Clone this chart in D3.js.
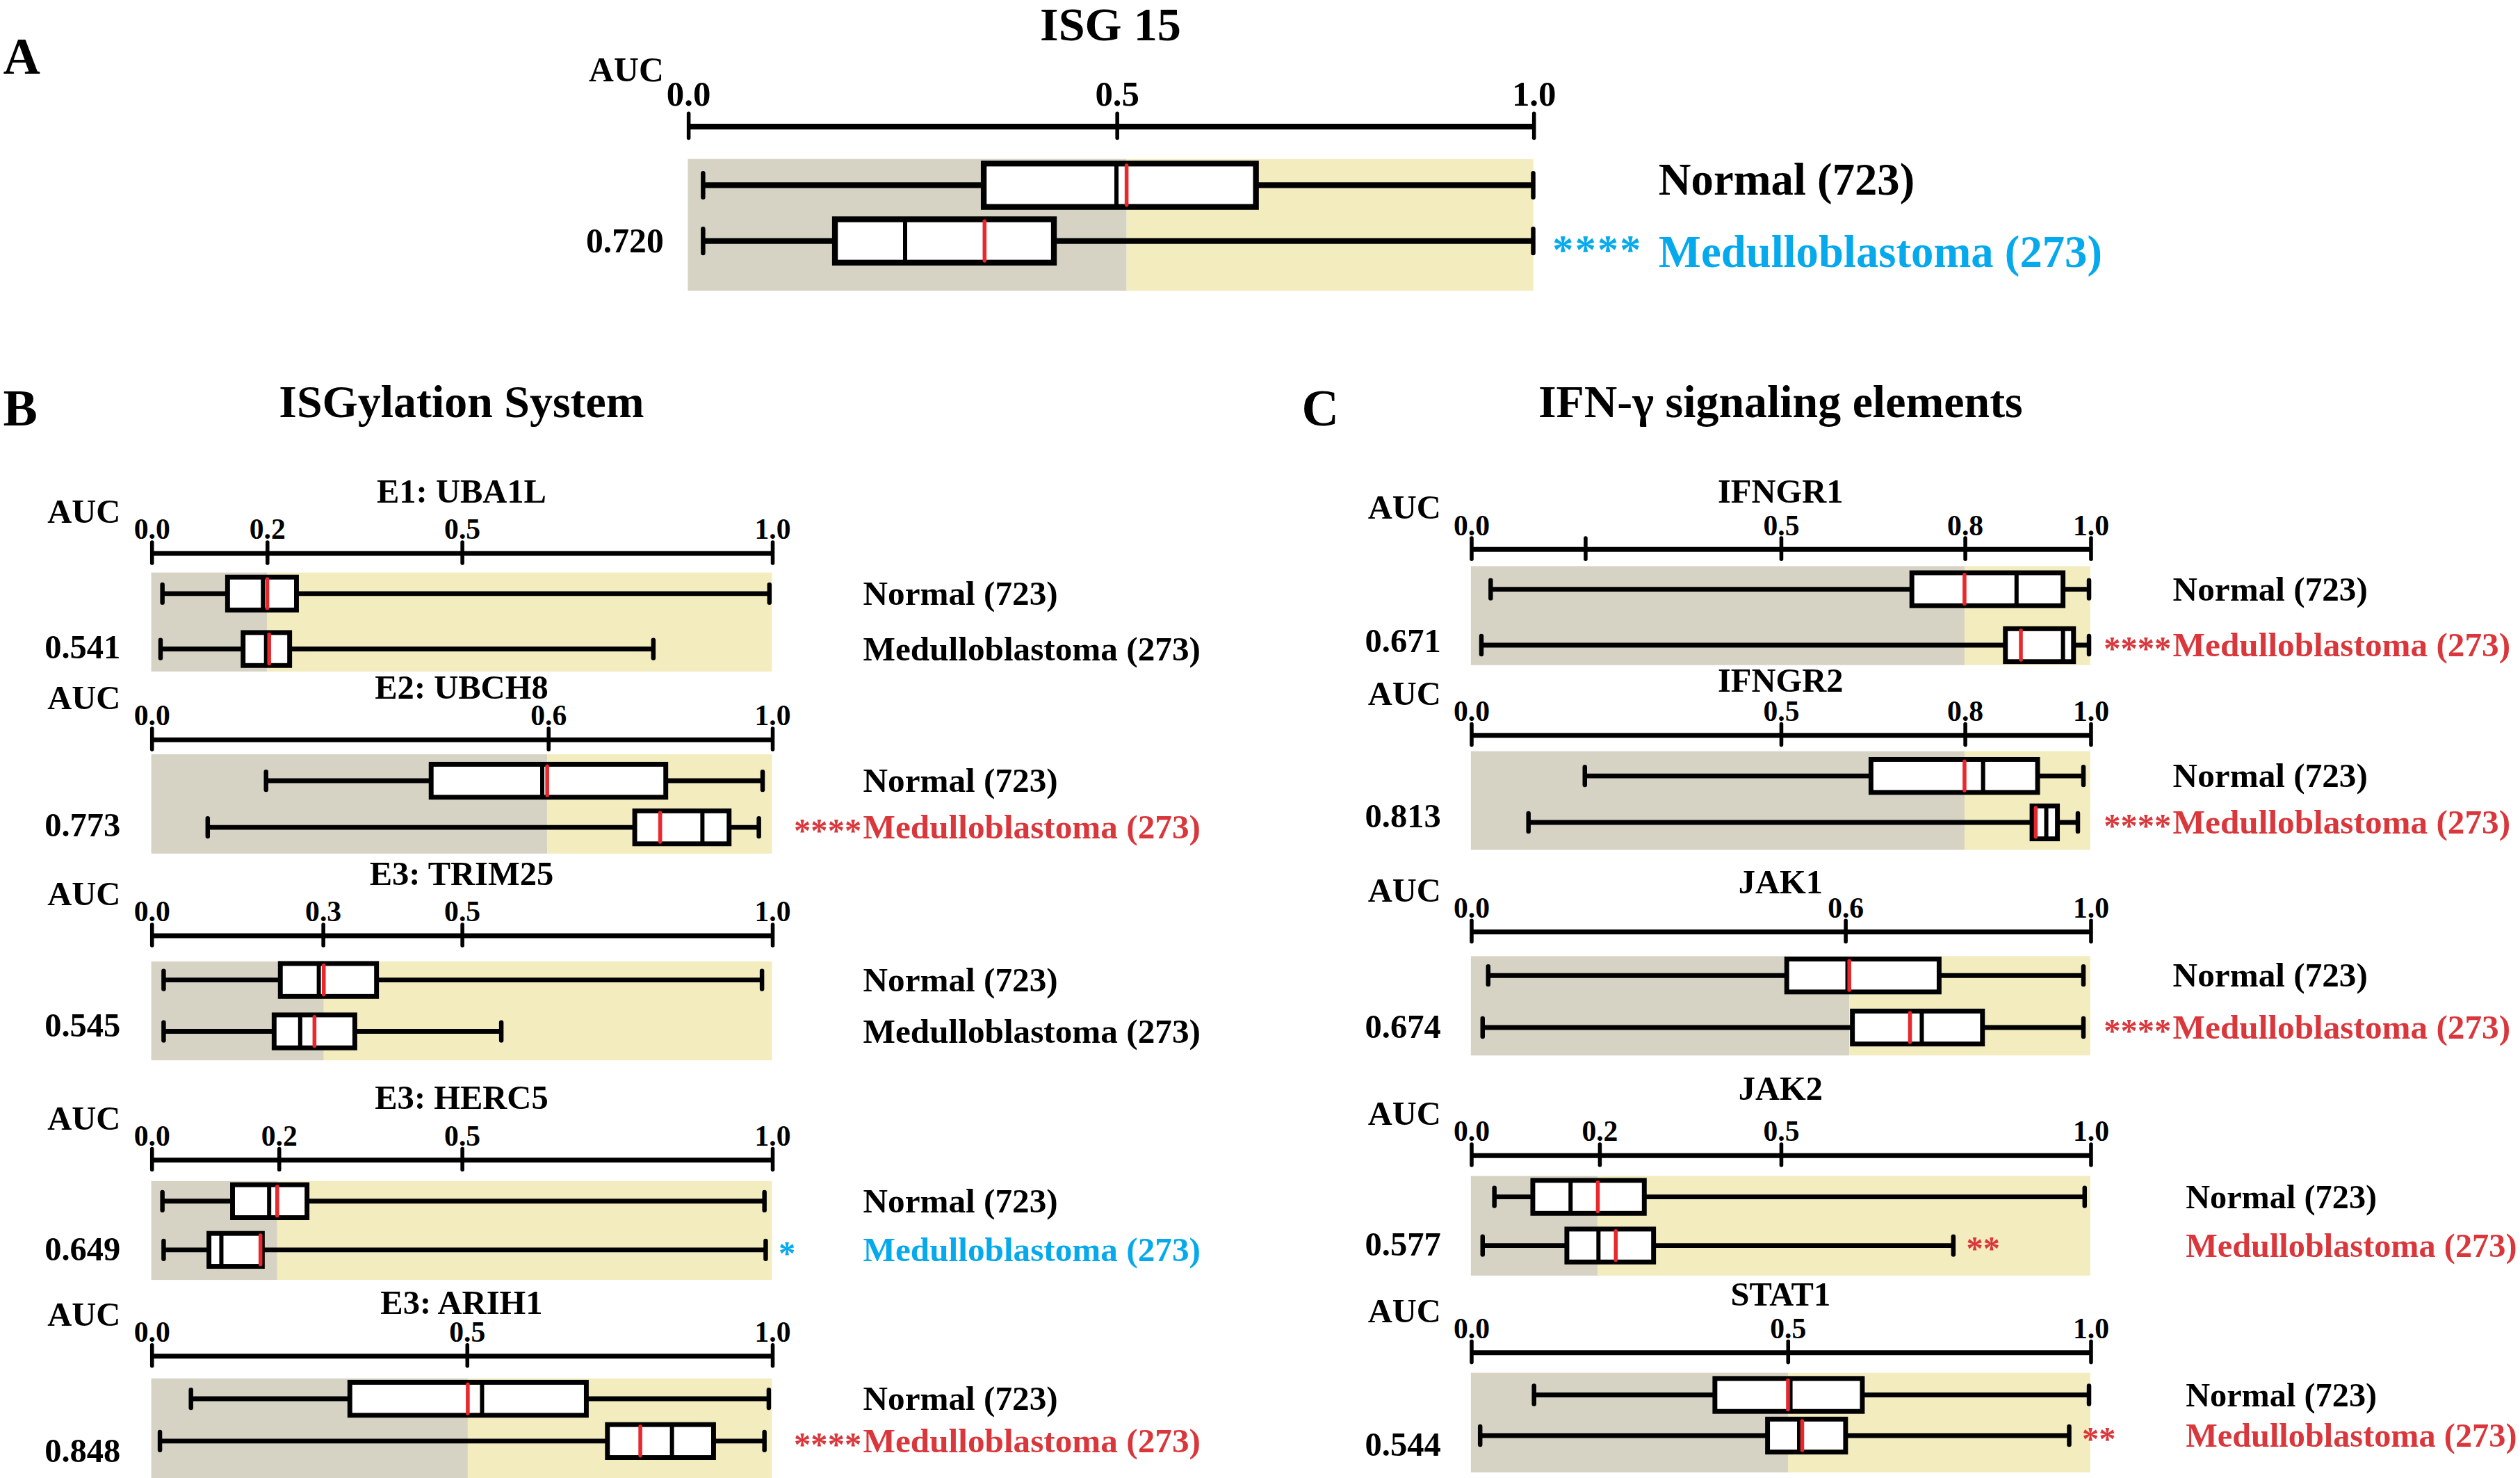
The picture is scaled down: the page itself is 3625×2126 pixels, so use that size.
<!DOCTYPE html>
<html>
  <head>
    <meta charset="utf-8">
    <style>
      body { margin: 0; background: #fff; }
      #chart text { font-family: "Liberation Serif", "Times New Roman", serif; font-weight: bold; }
    </style>
  </head>
  <body>
    <svg id="chart"></svg>

    <script src="https://cdn.jsdelivr.net/npm/d3@7/dist/d3.min.js"></script>
    <script type="text/javascript">
      // ---- data ----
      const panelNames = ["ISG 15", "E1: UBA1L", "E2: UBCH8", "E3: TRIM25", "E3: HERC5", "E3: ARIH1",
                          "IFNGR1", "IFNGR2", "JAK1", "JAK2", "STAT1"];
      const aucValues = ["0.720", "0.541", "0.773", "0.545", "0.649", "0.848",
                         "0.671", "0.813", "0.674", "0.577", "0.544"];
      const groupLabels = ["Normal (723)", "Medulloblastoma (273)"];

      // [min, q1, median, q3, max]
      const normalBoxes = [
        [0.018, 0.350, 0.507, 0.672, 1.000],
        [0.018, 0.123, 0.180, 0.234, 0.996],
        [0.185, 0.451, 0.630, 0.829, 0.985],
        [0.020, 0.208, 0.270, 0.363, 0.984],
        [0.018, 0.131, 0.190, 0.251, 0.988],
        [0.064, 0.320, 0.533, 0.701, 0.995],
        [0.032, 0.712, 0.881, 0.956, 0.998],
        [0.184, 0.646, 0.827, 0.915, 0.989],
        [0.028, 0.510, 0.608, 0.756, 0.989],
        [0.038, 0.100, 0.161, 0.280, 0.991],
        [0.102, 0.394, 0.516, 0.632, 0.998]
      ];
      const normalMeans = [0.519, 0.187, 0.638, 0.278, 0.203, 0.510, 0.797, 0.797, 0.611, 0.205, 0.512];

      const meduBoxes = [
        [0.018, 0.174, 0.257, 0.433, 1.000],
        [0.015, 0.148, 0.185, 0.223, 0.809],
        [0.091, 0.779, 0.888, 0.931, 0.979],
        [0.020, 0.198, 0.240, 0.328, 0.564],
        [0.020, 0.093, 0.113, 0.179, 0.990],
        [0.014, 0.735, 0.839, 0.906, 0.988],
        [0.017, 0.863, 0.956, 0.973, 0.998],
        [0.093, 0.906, 0.929, 0.947, 0.980],
        [0.019, 0.616, 0.728, 0.826, 0.989],
        [0.019, 0.155, 0.206, 0.295, 0.779],
        [0.015, 0.479, 0.530, 0.605, 0.966]
      ];
      const meduMeans = [0.351, 0.190, 0.820, 0.263, 0.176, 0.788, 0.888, 0.912, 0.709, 0.234, 0.535];

      const tickValues = [
        [0, 0.507, 1], [0, 0.186, 0.5, 1], [0, 0.639, 1], [0, 0.276, 0.5, 1], [0, 0.205, 0.5, 1],
        [0, 0.508, 1], [0, 0.184, 0.5, 0.797, 1], [0, 0.5, 0.797, 1], [0, 0.604, 1],
        [0, 0.207, 0.5, 1], [0, 0.511, 1]
      ];
      const tickLabels = [
        ["0.0", "0.5", "1.0"], ["0.0", "0.2", "0.5", "1.0"], ["0.0", "0.6", "1.0"], ["0.0", "0.3", "0.5", "1.0"],
        ["0.0", "0.2", "0.5", "1.0"], ["0.0", "0.5", "1.0"], ["0.0", "", "0.5", "0.8", "1.0"],
        ["0.0", "0.5", "0.8", "1.0"], ["0.0", "0.6", "1.0"], ["0.0", "0.2", "0.5", "1.0"], ["0.0", "0.5", "1.0"]
      ];
      const sigStars = ["****", "", "****", "", "*", "****", "****", "****", "****", "**", "**"];
      const sigDirection = ["down", "ns", "up", "ns", "down", "up", "up", "up", "up", "up", "up"];

      const sectionLetters = ["A", "B", "C"];
      const sectionTitles = ["", "ISGylation System", "IFN-\u03b3 signaling elements"];

      // ---- layout (in 1568 x 920 units, scaled to the window) ----
      const W = 1568, H = 920;
      const colors = { gray: "#d6d3c4", yellow: "#f2ecbf", red: "#d9373b", blue: "#05a9ec", mean: "#e8282c" };
      const bx = { x0: 94.1, x1: 480.3, aucX: 75, labelX: 537 };
      const cx = { x0: 915.2, x1: 1300.6, aucX: 896.6, labelX: 1352 };
      const layout = [
        { x0: 428, x1: 954, aucX: 413, labelX: 1032, axisY: 78.3, titleY: 25, aucLabelY: 50.5, shade: [99, 181], rows: [115.3, 150], aucY: 157, star: "name", big: true, labelDY: [6, 16] },
        Object.assign({ axisY: 344, titleY: 312.8, shade: [356.4, 418], rows: [369.5, 404], aucY: 409.6, star: "name" }, bx),
        Object.assign({ axisY: 460, titleY: 435, shade: [469.5, 531.3], rows: [486, 515], aucY: 520.7, star: "name" }, bx),
        Object.assign({ axisY: 582, titleY: 551, shade: [598.5, 660], rows: [610, 642], aucY: 645.4, star: "name" }, bx),
        Object.assign({ axisY: 721.6, titleY: 690.2, shade: [735.2, 796.7], rows: [747.7, 778], aucY: 784.7, star: "whisker" }, bx),
        Object.assign({ axisY: 843.7, titleY: 817.8, shade: [858, 925], rows: [870.7, 897], aucY: 910, star: "name" }, bx),
        Object.assign({ axisY: 341.5, titleY: 312.8, shade: [352.4, 414], rows: [366.8, 401.6], aucY: 406, star: "name" }, cx),
        Object.assign({ axisY: 457.2, titleY: 430.4, shade: [467.6, 529], rows: [483, 511.9], aucY: 514.8, star: "name" }, cx),
        Object.assign({ axisY: 579.6, titleY: 556, shade: [595.2, 657], rows: [607.2, 639.6], aucY: 646, star: "name" }, cx),
        Object.assign({}, cx, { axisY: 718.8, titleY: 684.6, shade: [732, 794], rows: [745, 775.3], aucY: 781.4, star: "whisker", labelX: 1360, labelSize: 20.9 }),
        Object.assign({}, cx, { axisY: 841.5, titleY: 812.7, shade: [854.5, 916.5], rows: [868.3, 893.6], aucY: 906, star: "whisker", labelX: 1360, labelSize: 20.9 })
      ];
      const sectionPos = [
        { x: 2, y: 46, tx: 0 },
        { x: 2, y: 265, tx: 287.2 },
        { x: 810, y: 265, tx: 1107.9 }
      ];

      const svg = d3.select("#chart")
        .attr("width", 3625)
        .attr("height", 2126)
        .attr("viewBox", `0 0 ${W} ${H}`)
        .attr("preserveAspectRatio", "none");

      svg.append("rect").attr("width", W).attr("height", H).attr("fill", "#fff");

      // section letters and titles
      sectionLetters.forEach(function(s, i) {
        svg.append("text").attr("x", sectionPos[i].x).attr("y", sectionPos[i].y)
          .attr("font-size", 32).text(s);
        if (sectionTitles[i]) {
          svg.append("text").attr("x", sectionPos[i].tx).attr("y", sectionPos[i].y - 5.4)
            .attr("text-anchor", "middle").attr("font-size", 28.5).text(sectionTitles[i]);
        }
      });

      function colorFor(dir) {
        return dir === "up" ? colors.red : dir === "down" ? colors.blue : "#000";
      }

      panelNames.forEach(function(name, i) {
        const L = layout[i];
        const big = !!L.big;
        const fs = big ? { title: 29.5, tick: 22, auc: 21.5, label: 28 } : { title: 21, tick: 18, auc: 21, label: L.labelSize || 21.3 };
        const boxH = big ? 27 : 20.5;
        const capH = big ? 7.5 : 5.6;
        const sw = big ? 3.6 : 3;
        const labelDY = L.labelDY || [7, 7];

        const x = d3.scaleLinear().domain([0, 1]).range([L.x0, L.x1]);
        const y = d3.scalePoint().domain(groupLabels).range(L.rows);
        const g = svg.append("g");

        // background split at normal mean
        g.append("rect").attr("x", x(0)).attr("y", L.shade[0])
          .attr("width", x(normalMeans[i]) - x(0)).attr("height", L.shade[1] - L.shade[0])
          .attr("fill", colors.gray);
        g.append("rect").attr("x", x(normalMeans[i])).attr("y", L.shade[0])
          .attr("width", x(1) - x(normalMeans[i])).attr("height", L.shade[1] - L.shade[0])
          .attr("fill", colors.yellow);

        // title
        g.append("text").attr("x", (L.x0 + L.x1) / 2).attr("y", L.titleY)
          .attr("text-anchor", "middle").attr("font-size", fs.title).text(name);

        // axis
        const axis = d3.axisTop(x)
          .tickValues(tickValues[i])
          .tickFormat(function(d, j) { return tickLabels[i][j]; })
          .tickSizeOuter(0).tickSizeInner(0);
        const ag = g.append("g").attr("transform", `translate(0,${L.axisY})`).call(axis);
        ag.select(".domain").attr("stroke", "#000").attr("stroke-width", sw);
        ag.selectAll(".tick line")
          .attr("y1", big ? -7.6 : -6.5).attr("y2", big ? 7.6 : 6.5)
          .attr("stroke", "#000").attr("stroke-width", 2.4).attr("stroke-linecap", "round");
        ag.selectAll(".tick text")
          .attr("y", big ? -12.7 : -8.5).attr("dy", 0)
          .attr("fill", "#000").attr("font-size", fs.tick)
          .attr("font-family", "Liberation Serif, serif").attr("font-weight", "bold");

        // AUC label and value
        g.append("text").attr("x", L.aucX).attr("y", big ? L.aucLabelY : L.axisY - 18.5)
          .attr("text-anchor", "end").attr("font-size", fs.auc).text("AUC");
        g.append("text").attr("x", L.aucX).attr("y", L.aucY)
          .attr("text-anchor", "end").attr("font-size", fs.auc).text(aucValues[i]);

        // boxes
        const boxes = [normalBoxes[i], meduBoxes[i]];
        const means = [normalMeans[i], meduMeans[i]];
        groupLabels.forEach(function(lab, k) {
          const b = boxes[k];
          const cy = y(lab);
          const bg = g.append("g");
          bg.append("line").attr("x1", x(b[0])).attr("x2", x(b[4])).attr("y1", cy).attr("y2", cy)
            .attr("stroke", "#000").attr("stroke-width", sw);
          [b[0], b[4]].forEach(function(v) {
            bg.append("line").attr("x1", x(v)).attr("x2", x(v))
              .attr("y1", cy - capH).attr("y2", cy + capH)
              .attr("stroke", "#000").attr("stroke-width", 2.8).attr("stroke-linecap", "round");
          });
          bg.append("rect").attr("x", x(b[1])).attr("y", cy - boxH / 2)
            .attr("width", x(b[3]) - x(b[1])).attr("height", boxH)
            .attr("fill", "#fff").attr("stroke", "#000").attr("stroke-width", sw);
          bg.append("line").attr("x1", x(b[2])).attr("x2", x(b[2]))
            .attr("y1", cy - boxH / 2).attr("y2", cy + boxH / 2)
            .attr("stroke", "#000").attr("stroke-width", 2.6);
          bg.append("line").attr("x1", x(means[k])).attr("x2", x(means[k]))
            .attr("y1", cy - boxH / 2 + 1.2).attr("y2", cy + boxH / 2 - 1.2)
            .attr("stroke", colors.mean).attr("stroke-width", 2.4).attr("stroke-linecap", "round");

          // group labels
          const col = k === 0 ? "#000" : colorFor(sigDirection[i]);
          g.append("text").attr("x", L.labelX).attr("y", cy + labelDY[k])
            .attr("font-size", fs.label).attr("fill", col).text(lab);

          if (k === 1 && sigStars[i]) {
            const st = g.append("text").attr("font-size", big ? 26 : 21).attr("fill", col).text(sigStars[i]);
            if (L.star === "name") {
              st.attr("x", L.labelX - (big ? 10 : 1)).attr("y", cy + labelDY[k] + (big ? -2 : 2)).attr("text-anchor", "end");
              if (big) st.attr("letter-spacing", 1);
            } else {
              st.attr("x", x(b[4]) + 8).attr("y", cy + 9).attr("text-anchor", "start");
            }
          }
        });
      });
    </script>
  </body>
</html>
